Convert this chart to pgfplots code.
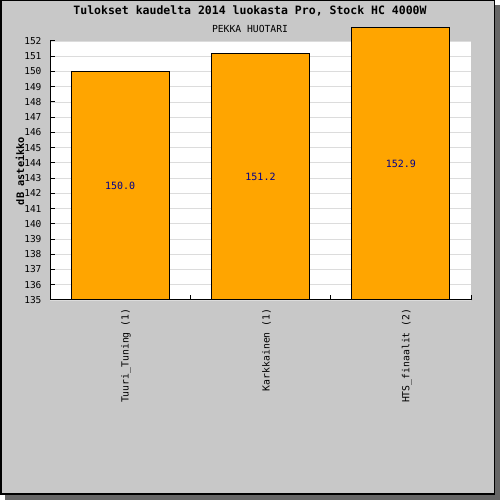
\documentclass[border=0pt]{standalone}
\usepackage{pgfplots}
\pgfplotsset{compat=1.18}
\usepackage{fontspec}
\setmainfont{DejaVu Sans Mono}
\definecolor{bgc}{HTML}{C8C8C8}
\definecolor{shd}{HTML}{666666}
\definecolor{barc}{HTML}{FFA500}
\definecolor{gridc}{HTML}{DCDCDC}
\definecolor{valc}{HTML}{00008B}
\begin{document}
\begin{tikzpicture}[x=1pt,y=1pt]
\useasboundingbox (0,0) rectangle (500,500);
\fill[white] (0,0) rectangle (500,500);
\fill[shd] (5,0) rectangle (500,495);
\filldraw[fill=bgc,draw=black,line width=1.5pt] (0.75,5.75) rectangle (494.25,499.25);
\fill[white] (50,200) rectangle (471,459);
\node[font=\bfseries\fontsize{11.5}{12}\selectfont] at (250,489) {Tulokset kaudelta 2014 luokasta Pro, Stock HC 4000W};
\node[font=\fontsize{9.7}{11}\selectfont] at (250,471) {PEKKA HUOTARI};
\begin{axis}[
  at={(50pt,200pt)}, anchor=south west, scale only axis,
  width=421pt, height=274.24pt,
  xmin=-0.5, xmax=2.5, ymin=135, ymax=153,
  axis line style={draw=none},
  xtick pos=bottom, ytick pos=left,
  tick align=inside,
  major tick length=5pt, minor tick length=5pt,
  tick style={black, line width=1pt},
  ytick={135,136,...,152},
  ymajorgrids, grid style={gridc, line width=0.8pt},
  xtick={0,1,2},
  xticklabels={Tuuri\_Tuning (1), Karkkainen (1), HTS\_finaalit (2)},
  major x tick style={draw=none},
  minor xtick={0.5,1.5,2.5},
  minor x tick style={yshift=5pt},
  /pgf/number format/assume math mode=true,
  ticklabel style={font=\fontsize{9.5}{10}\selectfont},
  yticklabel style={xshift=-5pt},
  xticklabel style={rotate=90, anchor=east, yshift=-6pt, font=\fontsize{9.8}{10}\selectfont},
  ylabel={dB asteikko},
  ylabel style={at={(axis description cs:-0.0713,0.4705)}, anchor=center, font=\bfseries\fontsize{10.3}{11}\selectfont},
  ybar, bar width=98pt,
  clip=true,
  visualization depends on={rawy \as \rawy},
  nodes near coords={\pgfmathprintnumber[fixed,fixed zerofill,precision=1]{\pgfplotspointmeta}},
  nodes near coords style={anchor=center, text=valc, font=\fontsize{10}{11}\selectfont,
     shift={(axis direction cs:0,{-(\rawy-135)/2})}},
]
\addplot[fill=barc, draw=black, line width=1.2pt] coordinates {(0,150.0) (1,151.2) (2,152.9)};
\end{axis}
\draw[line width=1pt] (50,459) -- (50,200) -- (471,200);
\end{tikzpicture}
\end{document}
